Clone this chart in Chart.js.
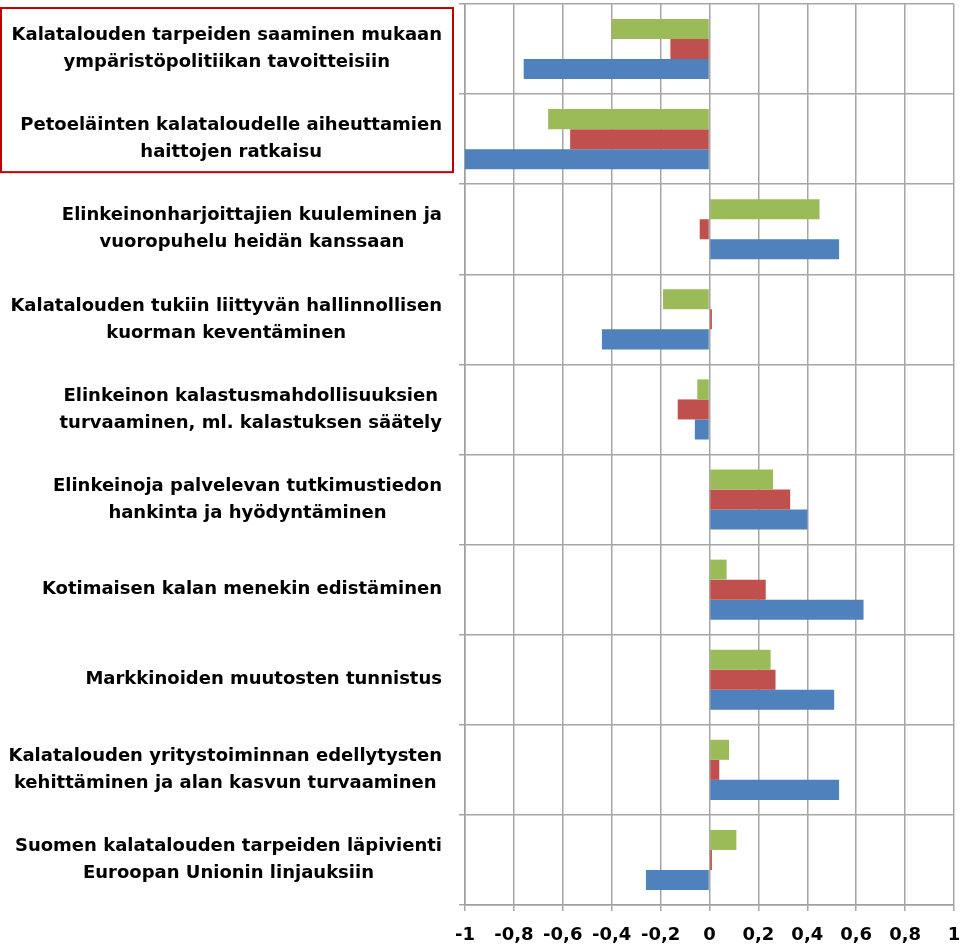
<!DOCTYPE html>
<html>
<head>
<meta charset="utf-8">
<script src="https://cdn.jsdelivr.net/npm/chart.js@4/dist/chart.umd.min.js"></script>
<style>
  body { margin: 0; background: #fff; }
  #wrap { width: 961px; height: 947px; }
</style>
</head>
<body>
<div id="wrap"><canvas id="chart" width="961" height="947"></canvas></div>
<script>
// Categories (each line of a label is one array entry)
const categories = [
    ['Kalatalouden tarpeiden saaminen mukaan', 'ympäristöpolitiikan tavoitteisiin'],
    ['Petoeläinten kalataloudelle aiheuttamien', 'haittojen ratkaisu'],
    ['Elinkeinonharjoittajien kuuleminen ja', 'vuoropuhelu heidän kanssaan'],
    ['Kalatalouden tukiin liittyvän hallinnollisen', 'kuorman keventäminen'],
    ['Elinkeinon kalastusmahdollisuuksien', 'turvaaminen, ml. kalastuksen säätely'],
    ['Elinkeinoja palvelevan tutkimustiedon', 'hankinta ja hyödyntäminen'],
    ['Kotimaisen kalan menekin edistäminen'],
    ['Markkinoiden muutosten tunnistus'],
    ['Kalatalouden yritystoiminnan edellytysten', 'kehittäminen ja alan kasvun turvaaminen'],
    ['Suomen kalatalouden tarpeiden läpivienti', 'Euroopan Unionin linjauksiin']
];

// Series values (top bar = green, middle = red, bottom = blue)
const greenValues = [-0.40, -0.66, 0.45, -0.19, -0.05, 0.26, 0.07, 0.25, 0.08, 0.11];
const redValues   = [-0.16, -0.57, -0.04, 0.01, -0.13, 0.33, 0.23, 0.27, 0.04, 0.01];
const blueValues  = [-0.76, -1.00, 0.53, -0.44, -0.06, 0.40, 0.63, 0.51, 0.53, -0.26];

// X axis ticks
const xMin = -1;
const xMax = 1;
const xStep = 0.2;

const labelFont = 'bold 18px "DejaVu Sans"';

// Draw the multi-line category labels, each block right aligned, lines centred
const labelPlugin = {
    id: 'labels',
    afterDraw(chart) {
        const ctx = chart.ctx;
        const yScale = chart.scales.y;
        const right = chart.chartArea.left - 23;
        const lineH = 27;
        ctx.save();
        ctx.font = labelFont;
        ctx.fillStyle = '#000';
        ctx.textAlign = 'center';
        ctx.textBaseline = 'middle';
        categories.forEach((lines, i) => {
            const yc = yScale.getPixelForTick(i);
            let widest = 0;
            lines.forEach(l => { widest = Math.max(widest, ctx.measureText(l).width); });
            const cx = right - widest / 2;
            const y0 = yc - (lines.length - 1) * lineH / 2;
            lines.forEach((l, j) => ctx.fillText(l, cx, y0 + j * lineH));
        });
        // red frame round the first two labels
        const top = yScale.getPixelForTick(0) - 41;
        const bottom = yScale.getPixelForTick(1) + 33;
        ctx.strokeStyle = '#c00000';
        ctx.lineWidth = 2;
        ctx.strokeRect(1, top, chart.chartArea.left - 13, bottom - top);
        ctx.restore();
    }
};

const ctx = document.getElementById('chart').getContext('2d');
new Chart(ctx, {
    type: 'bar',
    data: {
        labels: categories.map(c => c.join(' ')),
        datasets: [
            { label: 'Sarja 3', data: greenValues, backgroundColor: '#9bbb59' },
            { label: 'Sarja 2', data: redValues, backgroundColor: '#c0504d' },
            { label: 'Sarja 1', data: blueValues, backgroundColor: '#4f81bd' }
        ]
    },
    options: {
        indexAxis: 'y',
        responsive: false,
        animation: false,
        datasets: {
            bar: { categoryPercentage: 0.667, barPercentage: 1.0, borderWidth: 0 }
        },
        layout: { padding: { top: 4, right: 7, left: 0, bottom: 0 } },
        scales: {
            x: {
                min: xMin,
                max: xMax,
                border: { color: '#a0a0a0', width: 1.5 },
                grid: { color: '#a6a6a6', lineWidth: 1.5, tickLength: 6 },
                ticks: {
                    stepSize: xStep,
                    color: '#000',
                    font: { family: 'DejaVu Sans', size: 18, weight: 'bold' },
                    padding: 14,
                    maxRotation: 0,
                    autoSkip: false,
                    callback: v => String(Math.round(v * 10) / 10).replace('.', ',')
                },
                afterFit(scale) {
                    scale.height = 42;
                    scale.paddingRight = 0;
                    scale.paddingLeft = 0;
                }
            },
            y: {
                offset: true,
                border: { color: '#a0a0a0', width: 1.5 },
                grid: { color: '#a6a6a6', lineWidth: 1.5, offset: true, tickLength: 6 },
                ticks: { display: false },
                afterFit(scale) { scale.width = 465; }
            }
        },
        plugins: {
            legend: { display: false },
            tooltip: { enabled: false }
        }
    },
    plugins: [labelPlugin]
});
</script>
</body>
</html>
